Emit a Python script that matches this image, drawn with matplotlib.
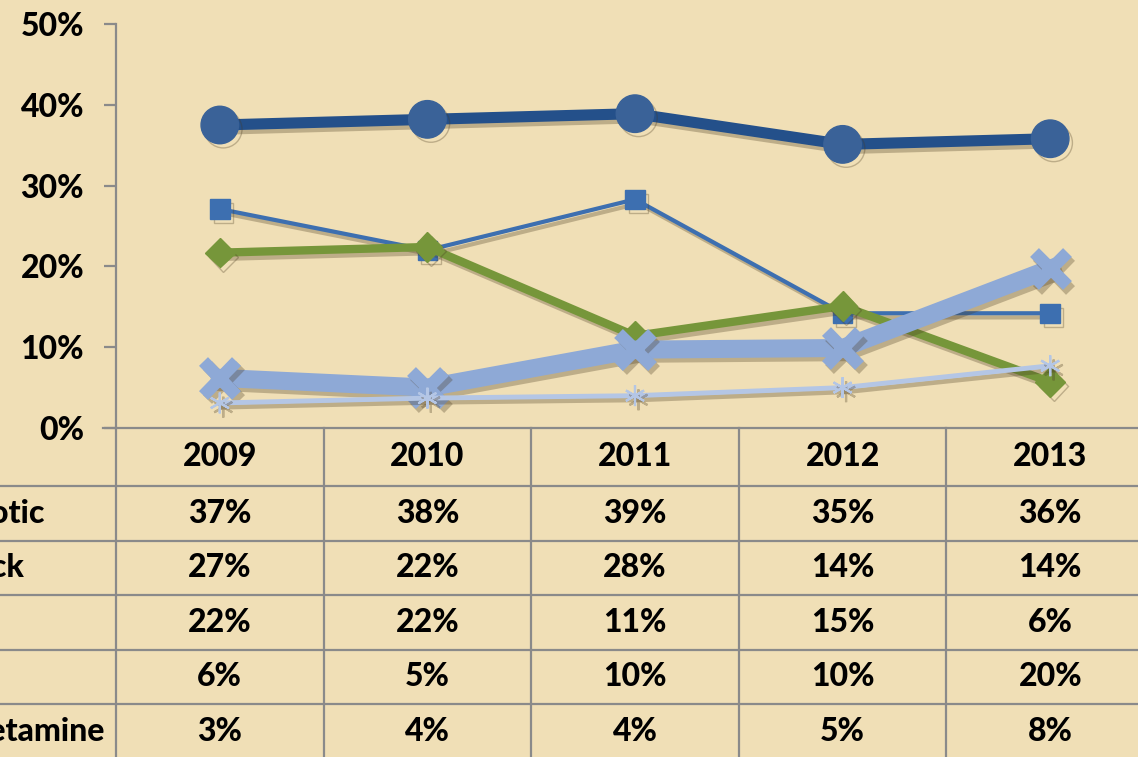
import matplotlib
matplotlib.use("Agg")
import matplotlib.pyplot as plt
import matplotlib.patheffects as pe
import matplotlib.transforms as mtransforms

years = ["2009", "2010", "2011", "2012", "2013"]
row_labels = ["Antipsychotic", "Cocaine/crack", "Heroin", "Ecstasy", "Methamphetamine"]
s1 = [37.5, 38.2, 38.9, 35.1, 35.8]
s2 = [27.1, 22.0, 28.3, 14.2, 14.2]
s3 = [21.7, 22.4, 11.4, 15.1, 5.7]
s4 = [6.2, 5.0, 9.7, 9.9, 19.7]
s5 = [3.1, 3.7, 4.0, 5.0, 7.7]
table_text = [
    ["37%", "38%", "39%", "35%", "36%"],
    ["27%", "22%", "28%", "14%", "14%"],
    ["22%", "22%", "11%", "15%", "6%"],
    ["6%", "5%", "10%", "10%", "20%"],
    ["3%", "4%", "4%", "5%", "8%"],
]
yticks = [0, 10, 20, 30, 40, 50]

W, H = 1138, 757
fig = plt.figure(figsize=(W / 100, H / 100), dpi=100)
fig.patch.set_facecolor("#F0DFB6")

ax_left, ax_right, ax_top, ax_bot = 116, 1154, 24, 428
ax = fig.add_axes([ax_left / W, 1 - ax_bot / H, (ax_right - ax_left) / W, (ax_bot - ax_top) / H])
ax.set_facecolor("none")
ax.set_xlim(-0.5, 4.5)
ax.set_ylim(0, 50)

font = "Lato"
weight = 900
grey = "#8A8A8A"

shadow = [pe.SimpleLineShadow(offset=(2.5, -3), shadow_color="#4a3a20", alpha=0.3), pe.Normal()]
x = list(range(len(years)))

ax.plot(x, s1, color="#24508A", lw=8, marker="o", ms=27, mfc="#3A6298", mec="#3A6298",
        path_effects=shadow, solid_capstyle="butt", clip_on=False, zorder=3)
ax.plot(x, s2, color="#3D6FB0", lw=3, marker="s", ms=14, mfc="#3D6FB0", mec="#3D6FB0",
        path_effects=shadow, clip_on=False, zorder=4)
ax.plot(x, s3, color="#76963A", lw=6, marker="D", ms=15, mfc="#76963A", mec="#76963A",
        path_effects=shadow, clip_on=False, zorder=5)
ax.plot(x, s4, color="#8EA9D6", lw=13, marker="x", ms=24, mew=9, mfc="#8EA9D6", mec="#8EA9D6",
        path_effects=shadow, clip_on=False, zorder=6)
ax.plot(x, s5, color="#B4C6E5", lw=3.5, marker=(6, 2, 0), ms=15, mew=1.6, mec="#B4C6E5",
        path_effects=shadow, clip_on=False, zorder=7)

# axes styling
for side in ["top", "right", "bottom"]:
    ax.spines[side].set_visible(False)
ax.spines["left"].set_color(grey)
ax.spines["left"].set_linewidth(1.6)
ax.set_yticks(yticks)
ax.set_yticklabels([f"{v}%" for v in yticks], fontfamily=font, fontweight=weight, fontsize=23)
ax.tick_params(axis="y", length=9, width=1.6, color=grey, pad=14)
ax.set_xticks([])

# data table (figure pixel coordinates for y, data for x)
def fy(ypix):
    return 1 - ypix / H

btrans = mtransforms.blended_transform_factory(ax.transData, fig.transFigure)
ftrans = fig.transFigure

row_lines = [428, 486, 540.5, 595, 649.5, 704, 758.5]
fig.add_artist(plt.Line2D([103 / W, 1.02], [fy(428)] * 2, color=grey, lw=1.6, transform=ftrans))
for yl in row_lines[1:]:
    fig.add_artist(plt.Line2D([-0.1, 1.02], [fy(yl)] * 2, color=grey, lw=1.6, transform=ftrans))
for xv in [-0.5, 0.5, 1.5, 2.5, 3.5, 4.5]:
    fig.add_artist(plt.Line2D([xv, xv], [fy(428), fy(760)], color=grey, lw=1.6, transform=btrans))

txt_kw = dict(fontfamily=font, fontweight=weight, fontsize=23, color="black")
for i, yr in enumerate(years):
    fig.text(i, fy(457), yr, transform=btrans, ha="center", va="center", **txt_kw)
for r, vals in enumerate(table_text):
    yc = (row_lines[r + 1] + row_lines[r + 2]) / 2
    for i, v in enumerate(vals):
        fig.text(i, fy(yc), v, transform=btrans, ha="center", va="center", **txt_kw)

label_end = [45, 25, -10, -10, 105]
for r, lab in enumerate(row_labels):
    yc = (row_lines[r + 1] + row_lines[r + 2]) / 2
    fig.text(label_end[r] / W, fy(yc), lab, transform=ftrans, ha="right", va="center", **txt_kw)

fig.savefig("out.png", dpi=100, facecolor=fig.get_facecolor())
